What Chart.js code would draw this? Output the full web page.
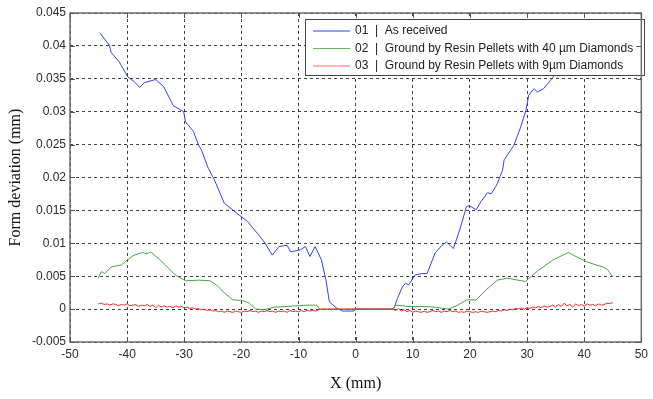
<!DOCTYPE html>
<html>
<head>
<meta charset="utf-8">
<script src="https://cdn.jsdelivr.net/npm/chart.js@4/dist/chart.umd.min.js"></script>
<style>
  html, body { margin: 0; padding: 0; background: #fff; }
  #wrap { width: 653px; height: 399px; position: relative; }
</style>
</head>
<body>
<div id="wrap"><canvas id="chart"></canvas></div>
<script>
// Tick values / labels
const xTicks = [-50, -40, -30, -20, -10, 0, 10, 20, 30, 40, 50];
const xTickLabels = ['-50', '-40', '-30', '-20', '-10', '0', '10', '20', '30', '40', '50'];
const yTicks = [-0.005, 0, 0.005, 0.01, 0.015, 0.02, 0.025, 0.03, 0.035, 0.04, 0.045];
const yTickLabels = ['-0.005', '0', '0.005', '0.01', '0.015', '0.02', '0.025', '0.03', '0.035', '0.04', '0.045'];

const seriesNames = [
  '01  |  As received',
  '02  |  Ground by Resin Pellets with 40 \u00b5m Diamonds',
  '03  |  Ground by Resin Pellets with 9\u00b5m Diamonds'
];
const seriesColors = ['rgb(45,65,255)', 'rgb(70,165,70)', 'rgb(255,40,40)'];
const legendColors = ['rgb(45,65,255)', 'rgb(100,185,100)', 'rgb(255,110,110)'];

// 01 - as received
const blueX = [-44.8, -43.1, -42.8, -41.4, -39.9, -38.8, -37.8, -37.0, -35.0, -33.6, -31.9, -30.1, -29.8, -28.4, -27.5,
  -27.0, -25.8, -24.7, -23.0, -20.4, -18.9, -17.2, -16.0, -14.6, -13.4, -12.0, -11.4, -9.7, -8.8, -8.0, -7.1, -6.0,
  -5.2, -4.6, -3.4, -3.0, -2.3, -0.3, 0, 6.5,
  6.7, 7.3, 8.2, 8.7, 9.3, 10.4, 11.6, 12.5, 13.9, 15.1, 15.9, 17.1, 18.2, 19.4, 19.9, 21.1, 21.9, 23.1, 23.7, 24.5,
  24.8, 25.7, 26.0, 27.7, 28.9, 29.8, 30.3, 31.2, 31.8, 32.9, 34.6, 35.5, 37.0, 39.0, 41.0, 43.0, 44.8];
const blueY = [0.0420, 0.0401, 0.0390, 0.0376, 0.0353, 0.0346, 0.0337, 0.0344, 0.0349, 0.0338, 0.0309, 0.0300, 0.0285, 0.0270, 0.0249,
  0.0242, 0.0214, 0.0196, 0.0161, 0.0143, 0.0133, 0.0115, 0.0102, 0.0082, 0.0095, 0.0097, 0.0087, 0.0090, 0.0095, 0.0080, 0.0095, 0.0075,
  0.0044, 0.0011, 0.0002, 0.0000, -0.0003, -0.0003, 0.0000, 0.0000,
  0.0001, 0.0016, 0.0034, 0.0039, 0.0037, 0.0052, 0.0054, 0.0054, 0.0085, 0.0097, 0.0102, 0.0092, 0.0120, 0.0156, 0.0157, 0.0151, 0.0163, 0.0177, 0.0175, 0.0186,
  0.0191, 0.0211, 0.0227, 0.0249, 0.0277, 0.0302, 0.0325, 0.0335, 0.0330, 0.0335, 0.0353, 0.0365, 0.0380, 0.0395, 0.0405, 0.0412, 0.0420];

// 02 - 40 um diamonds
const greenX = [-45.1, -44.5, -43.9, -42.8, -41.0, -39.9, -38.8, -37.3, -36.5, -35.9, -34.5, -33.3, -31.6, -29.8, -27.5,
  -25.5, -24.4, -22.9, -21.5, -19.8, -18.6, -17.5, -16.0, -14.3, -12.0, -10.3, -8.5, -6.8, -6.3, 6.5,
  7.0, 9.3, 11.6, 13.9, 16.2, 17.9, 19.4, 21.1, 22.8, 24.8, 26.5, 29.7, 32.0, 34.6, 37.2, 38.1, 40.4, 42.1, 43.3, 44.1, 45.0];
const greenY = [0.0047, 0.0057, 0.0054, 0.0064, 0.0067, 0.0075, 0.0082, 0.0086, 0.0084, 0.0087, 0.0077, 0.0067, 0.0052, 0.0043, 0.0044,
  0.0043, 0.0037, 0.0024, 0.0014, 0.0013, 0.0009, 0.0000, -0.0001, 0.0003, 0.0004, 0.0005, 0.0006, 0.0006, 0.0000, 0.0000,
  0.0006, 0.0004, 0.0004, 0.0003, 0.0000, 0.0006, 0.0014, 0.0014, 0.0029, 0.0044, 0.0047, 0.0042, 0.0059, 0.0075, 0.0086, 0.0082, 0.0072, 0.0067, 0.0064, 0.0060, 0.0049];

// 03 - 9 um diamonds
const redX = [-45, -44.5, -44, -43.5, -43, -42.5, -42, -41.5, -41, -40.5, -40, -39.5, -39, -38.5, -38, -37.5, -37, -36.5, -36, -35.5,
  -35, -34.5, -34, -33.5, -33, -32.5, -32, -31.5, -31, -30.5, -30, -29.5, -29, -28.5, -28, -27.5, -27, -26.5, -26, -25.5,
  -25, -24.5, -24, -23.5, -23, -22.5, -22, -21.5, -21, -20.5, -20, -19.5, -19, -18.5, -18, -17.5, -17, -16.5, -16, -15.5,
  -15, -14.5, -14, -13.5, -13, -12.5, -12, -11.5, -11, -10.5, -10, -9.5, -9, -8.5, -8, -7.5, -7, -6.5, -6, 6.5,
  7, 7.5, 8, 8.5, 9, 9.5, 10, 10.5, 11, 11.5, 12, 12.5, 13, 13.5, 14, 14.5, 15, 15.5, 16, 16.5,
  17, 17.5, 18, 18.5, 19, 19.5, 20, 20.5, 21, 21.5, 22, 22.5, 23, 23.5, 24, 24.5, 25, 25.5, 26, 26.5,
  27, 27.5, 28, 28.5, 29, 29.5, 30, 30.5, 31, 31.5, 32, 32.5, 33, 33.5, 34, 34.5, 35, 35.5, 36, 36.5,
  37, 37.5, 38, 38.5, 39, 39.5, 40, 40.5, 41, 41.5, 42, 42.5, 43, 43.5, 44, 44.5, 45];
const redY = [0.0008, 0.0009, 0.0007, 0.0008, 0.0006, 0.0008, 0.0007, 0.0005, 0.0007, 0.0006, 0.0008, 0.0005, 0.0006, 0.0007, 0.0004, 0.0006, 0.0005, 0.0007, 0.0004, 0.0006,
  0.0002, 0.0006, 0.0003, 0.0005, 0.0003, 0.0004, 0.0002, 0.0005, 0.0003, 0.0004, 0.0002, 0.0003, 0.0001, 0.0002, 0.0000, 0.0001, -0.0001, 0.0000, -0.0002, -0.0001,
  -0.0003, -0.0002, -0.0004, -0.0003, -0.0005, -0.0003, -0.0004, -0.0005, -0.0003, -0.0004, -0.0005, -0.0003, -0.0004, -0.0002, -0.0004, -0.0003, -0.0005, -0.0003, -0.0004, -0.0002,
  -0.0004, -0.0003, -0.0005, -0.0003, -0.0004, -0.0003, -0.0005, -0.0002, -0.0004, -0.0003, -0.0004, -0.0002, -0.0004, -0.0002, -0.0003, -0.0002, -0.0003, -0.0001, 0.0000, 0.0000,
  -0.0002, 0.0001, -0.0003, -0.0001, -0.0004, -0.0002, -0.0005, -0.0003, -0.0004, -0.0005, -0.0003, -0.0005, -0.0004, -0.0002, -0.0004, -0.0003, -0.0005, -0.0003, -0.0004, -0.0002,
  -0.0004, -0.0003, -0.0005, -0.0004, -0.0005, -0.0003, -0.0004, -0.0005, -0.0004, -0.0005, -0.0003, -0.0004, -0.0005, -0.0004, -0.0003, -0.0004, -0.0002, -0.0003, -0.0001, -0.0002,
  0.0000, -0.0001, 0.0001, 0.0000, 0.0002, 0.0000, 0.0002, 0.0001, 0.0003, 0.0002, 0.0004, 0.0002, 0.0005, 0.0003, 0.0004, 0.0006, 0.0003, 0.0007, 0.0004, 0.0009,
  0.0005, 0.0007, 0.0003, 0.0008, 0.0005, 0.0007, 0.0004, 0.0008, 0.0006, 0.0007, 0.0005, 0.0008, 0.0006, 0.0007, 0.0009, 0.0008, 0.0010];

function toPoints(xs, ys) {
  return xs.map((x, i) => ({ x: x, y: ys[i] }));
}

const GRID_COLOR = 'rgba(30,30,30,0.85)';
const FRAME_COLOR = '#6e6e6e';

// legend box drawn inside the plot, over the data (like matlab)
const insideLegend = {
  id: 'insideLegend',
  afterDatasetsDraw(chart) {
    const ctx = chart.ctx;
    const left = 305, top = 19, w = 339, h = 56;
    ctx.save();
    ctx.fillStyle = '#fff';
    ctx.fillRect(left, top, w, h);
    ctx.strokeStyle = '#444';
    ctx.lineWidth = 1;
    ctx.strokeRect(left + 0.5, top + 0.5, w, h);
    ctx.font = '12px "Liberation Sans", Arial, sans-serif';
    ctx.textBaseline = 'middle';
    ctx.fillStyle = '#222';
    seriesNames.forEach((name, i) => {
      const y = 31 + i * 17.5;
      ctx.strokeStyle = legendColors[i];
      ctx.lineWidth = 1.2;
      ctx.beginPath();
      ctx.moveTo(313, y);
      ctx.lineTo(350, y);
      ctx.stroke();
      ctx.fillText(name, 355, y);
    });
    ctx.restore();
  }
};

// box around the plot + inward tick marks on all four sides
const frame = {
  id: 'frame',
  afterDraw(chart) {
    const ctx = chart.ctx;
    const a = chart.chartArea;
    const xs = chart.scales.x, ys = chart.scales.y;
    ctx.save();
    ctx.strokeStyle = FRAME_COLOR;
    ctx.lineWidth = 1.5;
    ctx.strokeRect(a.left, a.top, a.right - a.left, a.bottom - a.top);
    ctx.lineWidth = 1;
    ctx.strokeStyle = '#555';
    ctx.beginPath();
    xTicks.forEach(v => {
      const px = Math.round(xs.getPixelForValue(v)) + 0.5;
      ctx.moveTo(px, a.bottom); ctx.lineTo(px, a.bottom - 5);
      ctx.moveTo(px, a.top); ctx.lineTo(px, a.top + 5);
    });
    yTicks.forEach(v => {
      const py = Math.round(ys.getPixelForValue(v)) + 0.5;
      ctx.moveTo(a.left, py); ctx.lineTo(a.left + 5, py);
      ctx.moveTo(a.right, py); ctx.lineTo(a.right - 5, py);
    });
    ctx.stroke();
    ctx.restore();
  }
};

const ctx = document.getElementById('chart');
new Chart(ctx, {
  type: 'line',
  data: {
    datasets: [
      { label: seriesNames[0], data: toPoints(blueX, blueY), borderColor: seriesColors[0], order: 3 },
      { label: seriesNames[1], data: toPoints(greenX, greenY), borderColor: seriesColors[1], order: 2 },
      { label: seriesNames[2], data: toPoints(redX, redY), borderColor: seriesColors[2], order: 1 }
    ]
  },
  options: {
    responsive: true,
    maintainAspectRatio: false,
    animation: false,
    devicePixelRatio: 1,
    elements: {
      line: { borderWidth: 1, tension: 0 },
      point: { radius: 0 }
    },
    layout: { padding: { top: 13, right: 4, left: 0, bottom: 0 } },
    plugins: {
      legend: { display: false },
      tooltip: { enabled: false }
    },
    scales: {
      x: {
        type: 'linear',
        min: -50,
        max: 50,
        afterBuildTicks: s => { s.ticks = xTicks.map(v => ({ value: v })); },
        afterFit: s => { s.height = 57; },
        ticks: {
          callback: (v, i) => xTickLabels[i],
          color: '#2a2a2a',
          font: { family: '"Liberation Sans", Arial, sans-serif', size: 12 },
          padding: 5,
          maxRotation: 0
        },
        grid: { color: GRID_COLOR, drawTicks: false, lineWidth: 1 },
        border: { display: false, dash: [3, 3] },
        title: {
          display: true,
          text: 'X (mm)',
          color: '#111',
          font: { family: '"Liberation Serif", "Times New Roman", serif', size: 16 },
          padding: { top: 0, bottom: 6 }
        }
      },
      y: {
        type: 'linear',
        min: -0.005,
        max: 0.045,
        afterBuildTicks: s => { s.ticks = yTicks.map(v => ({ value: v })); },
        afterFit: s => { s.width = 70; },
        ticks: {
          callback: (v, i) => yTickLabels[i],
          color: '#2a2a2a',
          font: { family: '"Liberation Sans", Arial, sans-serif', size: 12 },
          padding: 4
        },
        grid: { color: GRID_COLOR, drawTicks: false, lineWidth: 1 },
        border: { display: false, dash: [3, 3] },
        title: {
          display: true,
          text: 'Form deviation (mm)',
          color: '#111',
          font: { family: '"Liberation Serif", "Times New Roman", serif', size: 16 },
          padding: { top: 6, bottom: 0 }
        }
      }
    }
  },
  plugins: [insideLegend, frame]
});
</script>
</body>
</html>
